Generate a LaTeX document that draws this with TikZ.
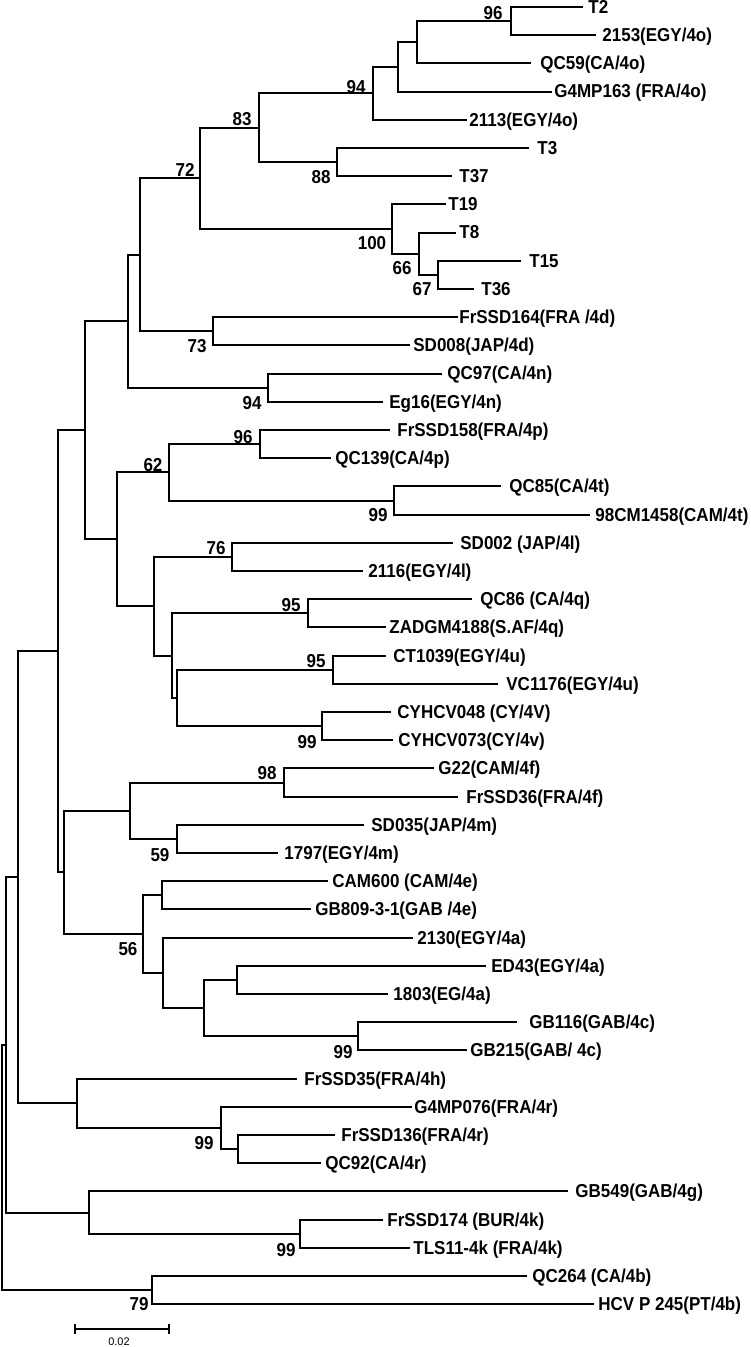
\documentclass[tikz,border=0pt]{standalone}
\usepackage{fontspec}
\setmainfont{Liberation Sans}
\newcommand{\tl}[1]{\scalebox{1}[1.1]{#1}}
\newcommand{\lf}[5]{\coordinate (e#1) at (#3,#2); \node[leaf] (t#1) at (#4,#2) {\tl{#5}};}
\begin{document}
\begin{tikzpicture}[x=0.5pt,y=-0.5pt,
  br/.style={line width=1pt},
  leaf/.style={anchor=base west,inner sep=0pt,yshift=-3.2pt,font=\fontsize{8.5}{10}\selectfont\bfseries},
  bs/.style={anchor=base,inner sep=0pt,yshift=-3.2pt,font=\fontsize{8.5}{10}\selectfont\bfseries}]
\useasboundingbox (0,0) rectangle (750,1347);
% leaves: name, y, line end, text start, text
\lf{0}{7}{583}{588}{T2}
\lf{1}{35.2}{596}{602}{2153(EGY/4o)}
\lf{2}{63.4}{531}{540}{QC59(CA/4o)}
\lf{3}{91.6}{552}{554}{G4MP163 (FRA/4o)}
\lf{4}{119.8}{467}{469}{2113(EGY/4o)}
\lf{5}{148}{529}{537}{T3}
\lf{6}{176.2}{452}{459}{T37}
\lf{7}{204.4}{446}{448}{T19}
\lf{8}{232.6}{456}{459}{T8}
\lf{9}{260.8}{521}{529}{T15}
\lf{10}{289}{474}{481}{T36}
\lf{11}{317.2}{458}{459}{FrSSD164(FRA /4d)}
\lf{12}{345.4}{410}{413}{SD008(JAP/4d)}
\lf{13}{373.6}{442}{447}{QC97(CA/4n)}
\lf{14}{401.8}{383}{389}{Eg16(EGY/4n)}
\lf{15}{430}{390}{397}{FrSSD158(FRA/4p)}
\lf{16}{458.2}{331}{335}{QC139(CA/4p)}
\lf{17}{486.4}{501}{509}{QC85(CA/4t)}
\lf{18}{514.6}{590}{595}{98CM1458(CAM/4t)}
\lf{19}{542.8}{453}{460}{SD002 (JAP/4l)}
\lf{20}{571}{363}{368}{2116(EGY/4l)}
\lf{21}{599.2}{472}{480}{QC86 (CA/4q)}
\lf{22}{627.4}{386}{389}{ZADGM4188(S.AF/4q)}
\lf{23}{655.6}{386}{393}{CT1039(EGY/4u)}
\lf{24}{683.8}{498}{506}{VC1176(EGY/4u)}
\lf{25}{712}{391}{397}{CYHCV048 (CY/4V)}
\lf{26}{740.2}{393}{398}{CYHCV073(CY/4v)}
\lf{27}{768.4}{434}{438}{G22(CAM/4f)}
\lf{28}{796.6}{458}{466}{FrSSD36(FRA/4f)}
\lf{29}{824.8}{364}{371}{SD035(JAP/4m)}
\lf{30}{853}{278}{284}{1797(EGY/4m)}
\lf{31}{881.2}{328}{332}{CAM600 (CAM/4e)}
\lf{32}{909.4}{311}{315}{GB809-3-1(GAB /4e)}
\lf{33}{937.6}{413}{417}{2130(EGY/4a)}
\lf{34}{965.8}{486}{491}{ED43(EGY/4a)}
\lf{35}{994}{388}{393}{1803(EG/4a)}
\lf{36}{1022.2}{517}{529}{GB116(GAB/4c)}
\lf{37}{1050.4}{467}{470}{GB215(GAB/ 4c)}
\lf{38}{1078.6}{297}{304}{FrSSD35(FRA/4h)}
\lf{39}{1106.8}{412}{414}{G4MP076(FRA/4r)}
\lf{40}{1135}{335}{341}{FrSSD136(FRA/4r)}
\lf{41}{1163.2}{321}{325}{QC92(CA/4r)}
\lf{42}{1191.4}{568}{575}{GB549(GAB/4g)}
\lf{43}{1219.6}{383}{387}{FrSSD174 (BUR/4k)}
\lf{44}{1247.8}{410}{413}{TLS11-4k (FRA/4k)}
\lf{45}{1276}{527}{532}{QC264 (CA/4b)}
\lf{46}{1304.2}{594}{598}{HCV P 245(PT/4b)}
% internal nodes
\coordinate (n96) at (511,21.1);
\coordinate (na) at (417,42.25);
\coordinate (nb) at (398,66.9);
\coordinate (n94) at (373,93.4);
\coordinate (n88) at (337,162.1);
\coordinate (n83) at (259,127.7);
\coordinate (n67) at (438,274.9);
\coordinate (n66) at (419,253.7);
\coordinate (n100) at (392,229.1);
\coordinate (n72) at (200,178.4);
\coordinate (n73) at (213,331.3);
\coordinate (nc) at (140,254.9);
\coordinate (n94b) at (268,387.7);
\coordinate (nd) at (128,321.3);
\coordinate (n96b) at (260,444.1);
\coordinate (n99a) at (394,500.5);
\coordinate (n62) at (169,472.3);
\coordinate (n76) at (232,556.9);
\coordinate (n95a) at (308,613.3);
\coordinate (n95b) at (333,669.7);
\coordinate (n99b) at (322,726.1);
\coordinate (ni) at (177,697.9);
\coordinate (nh) at (172,655.6);
\coordinate (ng) at (154,606.3);
\coordinate (nf) at (117,539.3);
\coordinate (ne) at (85,430.3);
\coordinate (n98) at (284,782.5);
\coordinate (n59) at (177,838.9);
\coordinate (nj) at (130,810.7);
\coordinate (nl) at (162,895.3);
\coordinate (no) at (237,979.9);
\coordinate (n99c) at (358,1036.3);
\coordinate (nn) at (204,1008.1);
\coordinate (nm) at (163,972.9);
\coordinate (n56) at (143,934.1);
\coordinate (nk) at (64,872.4);
\coordinate (nE) at (58,651.4);
\coordinate (n99s) at (238,1149.1);
\coordinate (n99d) at (221,1128);
\coordinate (nF) at (77,1103.3);
\coordinate (nC) at (18,877.4);
\coordinate (n99e) at (300,1233.7);
\coordinate (nD) at (89,1212.6);
\coordinate (nA) at (6,1045);
\coordinate (n79) at (152,1290.1);
\coordinate (root) at (2,1167.6);
% branches
\draw[br] (root) |- (nA) (root) |- (n79);
\draw[br] (nA) |- (nC) (nA) |- (nD);
\draw[br] (nC) |- (nE) (nC) |- (nF);
\draw[br] (nE) |- (ne) (nE) |- (nk);
\draw[br] (ne) |- (nd) (ne) |- (nf);
\draw[br] (nd) |- (nc) (nd) |- (n94b);
\draw[br] (nc) |- (n72) (nc) |- (n73);
\draw[br] (n72) |- (n83) (n72) |- (n100);
\draw[br] (n83) |- (n94) (n83) |- (n88);
\draw[br] (n94) |- (nb) (n94) |- (e4);
\draw[br] (nb) |- (na) (nb) |- (e3);
\draw[br] (na) |- (n96) (na) |- (e2);
\draw[br] (n96) |- (e0) (n96) |- (e1);
\draw[br] (n88) |- (e5) (n88) |- (e6);
\draw[br] (n100) |- (e7) (n100) |- (n66);
\draw[br] (n66) |- (e8) (n66) |- (n67);
\draw[br] (n67) |- (e9) (n67) |- (e10);
\draw[br] (n73) |- (e11) (n73) |- (e12);
\draw[br] (n94b) |- (e13) (n94b) |- (e14);
\draw[br] (nf) |- (n62) (nf) |- (ng);
\draw[br] (n62) |- (n96b) (n62) |- (n99a);
\draw[br] (n96b) |- (e15) (n96b) |- (e16);
\draw[br] (n99a) |- (e17) (n99a) |- (e18);
\draw[br] (ng) |- (n76) (ng) |- (nh);
\draw[br] (n76) |- (e19) (n76) |- (e20);
\draw[br] (nh) |- (n95a) (nh) |- (ni);
\draw[br] (n95a) |- (e21) (n95a) |- (e22);
\draw[br] (ni) |- (n95b) (ni) |- (n99b);
\draw[br] (n95b) |- (e23) (n95b) |- (e24);
\draw[br] (n99b) |- (e25) (n99b) |- (e26);
\draw[br] (nk) |- (nj) (nk) |- (n56);
\draw[br] (nj) |- (n98) (nj) |- (n59);
\draw[br] (n98) |- (e27) (n98) |- (e28);
\draw[br] (n59) |- (e29) (n59) |- (e30);
\draw[br] (n56) |- (nl) (n56) |- (nm);
\draw[br] (nl) |- (e31) (nl) |- (e32);
\draw[br] (nm) |- (e33) (nm) |- (nn);
\draw[br] (nn) |- (no) (nn) |- (n99c);
\draw[br] (no) |- (e34) (no) |- (e35);
\draw[br] (n99c) |- (e36) (n99c) |- (e37);
\draw[br] (nF) |- (e38) (nF) |- (n99d);
\draw[br] (n99d) |- (e39) (n99d) |- (n99s);
\draw[br] (n99s) |- (e40) (n99s) |- (e41);
\draw[br] (nD) |- (e42) (nD) |- (n99e);
\draw[br] (n99e) |- (e43) (n99e) |- (e44);
\draw[br] (n79) |- (e45) (n79) |- (e46);
% bootstrap values
\node[bs] (b1) at (493,13) {\tl{96}};
\node[bs] (b2) at (356,87) {\tl{94}};
\node[bs] (b3) at (242,119) {\tl{83}};
\node[bs] (b4) at (321,177) {\tl{88}};
\node[bs] (b5) at (185,170) {\tl{72}};
\node[bs] (b6) at (372,243) {\tl{100}};
\node[bs] (b7) at (402,268) {\tl{66}};
\node[bs] (b8) at (422,289) {\tl{67}};
\node[bs] (b9) at (197,346) {\tl{73}};
\node[bs] (b10) at (252,403) {\tl{94}};
\node[bs] (b11) at (243,437) {\tl{96}};
\node[bs] (b12) at (378,515) {\tl{99}};
\node[bs] (b13) at (153,465) {\tl{62}};
\node[bs] (b14) at (216,548) {\tl{76}};
\node[bs] (b15) at (291,605) {\tl{95}};
\node[bs] (b16) at (316,661) {\tl{95}};
\node[bs] (b17) at (307,742) {\tl{99}};
\node[bs] (b18) at (267,773) {\tl{98}};
\node[bs] (b19) at (160,855) {\tl{59}};
\node[bs] (b20) at (128,949) {\tl{56}};
\node[bs] (b21) at (343,1052) {\tl{99}};
\node[bs] (b22) at (204,1143) {\tl{99}};
\node[bs] (b23) at (286,1250) {\tl{99}};
\node[bs] (b24) at (139,1304) {\tl{79}};
% scale bar
\coordinate (sa) at (75,1329);
\coordinate (sb) at (169,1329);
\draw[line width=0.7pt] (sa) -- (sb);
\draw[line width=0.7pt] ([yshift=2.5pt]sa) -- ([yshift=-2.5pt]sa);
\draw[line width=0.7pt] ([yshift=2.5pt]sb) -- ([yshift=-2.5pt]sb);
\node[inner sep=0pt,font=\fontsize{5.5}{6}\selectfont] (sl) at (119,1342) {0.02};
\end{tikzpicture}
\end{document}
